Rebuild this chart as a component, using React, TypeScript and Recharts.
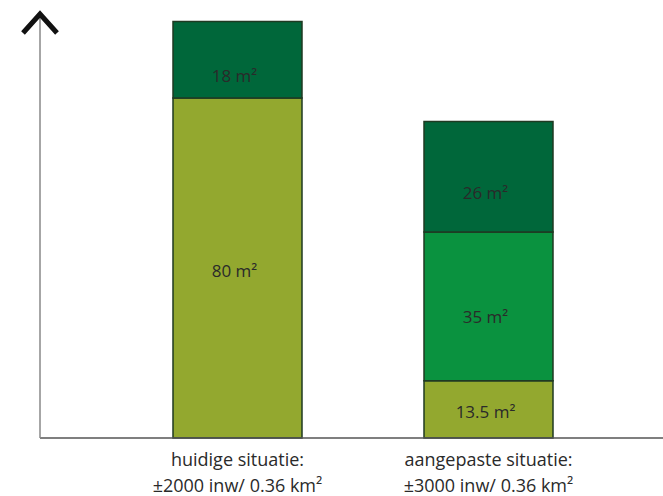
import { ComposedChart, Bar, XAxis, YAxis, LabelList } from 'recharts';

const categories = ['huidige situatie:', 'aangepaste situatie:'];
const subtitles = ['±2000 inw/ 0.36 km²', '±3000 inw/ 0.36 km²'];
const baseValues = [80, 13.5];
const midValues = [null, 35];
const topValues = [18, 26];

const data = categories.map((name, i) => ({
  name,
  base: baseValues[i],
  mid: midValues[i],
  top: topValues[i],
}));

const FONT = '"Open Sans", "Noto Sans", sans-serif';
const EDGE = '#1f3a22';

const segLabel = (dy: number) => (props: any) => {
  const { x, y, width, height, value } = props;
  if (value == null) return null;
  return (
    <text
      x={x + width / 2 - 3}
      y={y + height / 2 + dy}
      textAnchor="middle"
      dominantBaseline="central"
      fill="#2a2a2a"
      fontSize={17}
      fontFamily={FONT}
    >
      {`${value} m²`}
    </text>
  );
};

const CategoryTick = (props: any) => {
  const { x, y, payload, index } = props;
  return (
    <text x={x} textAnchor="middle" fill="#2a2a2a" fontSize={18} fontFamily={FONT}>
      <tspan x={x} y={y + 20}>{payload.value}</tspan>
      <tspan x={x} y={y + 46}>{subtitles[index]}</tspan>
    </text>
  );
};

const Arrow = (props: any) => {
  const vb = props.viewBox || {};
  const cx = (vb.x ?? 0) + (vb.width ?? 0);
  const cy = (vb.y ?? 0) + 1;
  return (
    <path
      d={`M${cx - 17},${cy + 19} L${cx},${cy} L${cx + 17},${cy + 19}`}
      fill="none"
      stroke="#111"
      strokeWidth={5}
    />
  );
};

export default function App() {
  return (
    <div style={{ position: 'absolute', left: 0, top: 0, background: '#fff' }}>
      <ComposedChart
        width={663}
        height={496}
        data={data}
        margin={{ top: 13, right: 0, bottom: 0, left: 39 }}
        barCategoryGap={0}
      >
        <XAxis
          dataKey="name"
          height={58}
          padding={{ left: 72, right: 49 }}
          axisLine={{ stroke: '#555', strokeWidth: 1.5 }}
          tickLine={false}
          tick={<CategoryTick />}
          interval={0}
        />
        <YAxis
          width={1}
          domain={[0, 100]}
          tick={false}
          tickLine={false}
          axisLine={{ stroke: '#888', strokeWidth: 1.5 }}
          label={{ content: <Arrow /> }}
        />
        <Bar dataKey="base" stackId="a" fill="#93a82f" stroke={EDGE} strokeWidth={1.5} barSize={129} isAnimationActive={false}>
          <LabelList dataKey="base" content={segLabel(2)} />
        </Bar>
        <Bar dataKey="mid" stackId="a" fill="#0a923f" stroke={EDGE} strokeWidth={1.5} barSize={129} isAnimationActive={false}>
          <LabelList dataKey="mid" content={segLabel(10)} />
        </Bar>
        <Bar dataKey="top" stackId="a" fill="#00673a" stroke={EDGE} strokeWidth={1.5} barSize={129} isAnimationActive={false}>
          <LabelList dataKey="top" content={segLabel(16)} />
        </Bar>
      </ComposedChart>
    </div>
  );
}
